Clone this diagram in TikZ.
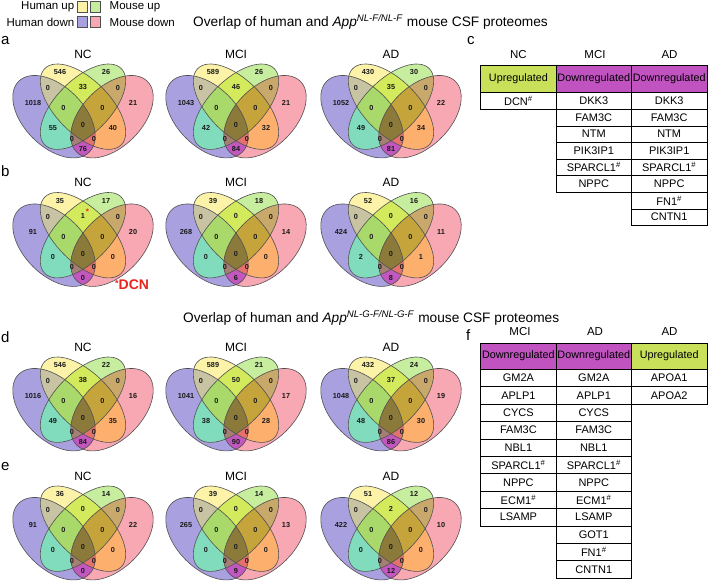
\documentclass[tikz,border=0pt]{standalone}
\usepackage{fontspec}
\setmainfont{Liberation Sans}
\definecolor{cP}{HTML}{A9A0E0}
\definecolor{cY}{HTML}{FCF3A8}
\definecolor{cG}{HTML}{C6EE9E}
\definecolor{cK}{HTML}{F7A8B2}
\definecolor{cPY}{HTML}{C8C3A3}
\definecolor{cPG}{HTML}{80DCBC}
\definecolor{cPK}{HTML}{C257BF}
\definecolor{cYG}{HTML}{D3EA5C}
\definecolor{cYK}{HTML}{FDAF6E}
\definecolor{cGK}{HTML}{C9A86B}
\definecolor{cPYG}{HTML}{A8D96A}
\definecolor{cPYK}{HTML}{E4716E}
\definecolor{cPGK}{HTML}{A47F73}
\definecolor{cYGK}{HTML}{C6A43C}
\definecolor{cPYGK}{HTML}{8C7A3A}
\definecolor{edgegray}{HTML}{505050}
\definecolor{numtext}{HTML}{1A1A1A}
\definecolor{dcnred}{HTML}{E8251E}
\definecolor{upgreen}{HTML}{C8E05A}
\definecolor{downmag}{HTML}{C053C0}
% ellipse shapes, pixel units relative to the Venn origin
\def\ShP#1{[#1,shift={(-29,15)},rotate=-45] (0,0) ellipse [x radius=50,y radius=30]}
\def\ShK#1{[#1,shift={(29,15)},rotate=45] (0,0) ellipse [x radius=50,y radius=30]}
\def\ShY#1{[#1,shift={(0,5)},rotate=-45] (0,0) ellipse [x radius=54,y radius=27]}
\def\ShG#1{[#1,shift={(0,5)},rotate=45] (0,0) ellipse [x radius=54,y radius=27]}
\newcommand\rone[2]{\expandafter\path#1{fill=#2};}
\newcommand\rtwo[3]{\begin{scope}\expandafter\path#1{clip};\expandafter\path#2{fill=#3};\end{scope}}
\newcommand\rthree[4]{\begin{scope}\expandafter\path#1{clip};\expandafter\path#2{clip};\expandafter\path#3{fill=#4};\end{scope}}
\newcommand\rfour[5]{\begin{scope}\expandafter\path#1{clip};\expandafter\path#2{clip};\expandafter\path#3{clip};\expandafter\path#4{fill=#5};\end{scope}}
\newcommand\vennbase[1]{%
  \node[vtitle] at (0,-47.7) {#1};
  \rone\ShP{cP}\rone\ShY{cY}\rone\ShG{cG}\rone\ShK{cK}
  \rtwo\ShP\ShY{cPY}\rtwo\ShP\ShG{cPG}\rtwo\ShP\ShK{cPK}
  \rtwo\ShY\ShG{cYG}\rtwo\ShY\ShK{cYK}\rtwo\ShG\ShK{cGK}
  \rthree\ShP\ShY\ShG{cPYG}\rthree\ShP\ShY\ShK{cPYK}
  \rthree\ShP\ShG\ShK{cPGK}\rthree\ShY\ShG\ShK{cYGK}
  \rfour\ShP\ShY\ShG\ShK{cPYGK}
  \expandafter\path\ShP{vedge};\expandafter\path\ShY{vedge};
  \expandafter\path\ShG{vedge};\expandafter\path\ShK{vedge};}
\newcommand\vlabA[9]{%
  \node[num] at (-23,-29.7) {#1};
  \node[num] at (23,-29.7) {#2};
  \node[num] at (-50,1.3) {#3};
  \node[num] at (50,1.3) {#4};
  \node[num] at (-35,-13.7) {#5};
  \node[num] at (0,-14.7) {#6};
  \node[num] at (35,-13.7) {#7};
  \node[num] at (-19.5,6.3) {#8};
  \node[num] at (19.5,6.3) {#9};}
\newcommand\vlabB[6]{%
  \node[num] at (-30,26.3) {#1};
  \node[num] at (0,23.3) {#2};
  \node[num] at (30,26.3) {#3};
  \node[num] at (-11,37) {#4};
  \node[num] at (11,37) {#5};
  \node[num] at (0,47.5) {#6};}
\newcommand\venn[5]{%
  \begin{scope}[shift={(#1,#2)}]
    \vennbase{#3}
    \vlabA#4
    \vlabB#5
  \end{scope}}
\newcommand\hs{\textsuperscript{\#}}
\begin{document}
\begin{tikzpicture}[x=1pt,y=-1pt,
  vedge/.style={draw=edgegray,line width=0.6pt},
  num/.style={font=\fontsize{7.3}{8}\selectfont\bfseries,text=numtext,inner sep=0},
  vtitle/.style={font=\fontsize{12}{14}\selectfont,inner sep=0},
  plabel/.style={font=\fontsize{15}{17}\selectfont,anchor=base west,inner sep=0},
  ttl/.style={font=\fontsize{13.7}{16}\selectfont,anchor=base west,inner sep=0},
  lgtext/.style={font=\fontsize{11.5}{13}\selectfont,inner sep=0},
  lbox/.style={draw=edgegray,line width=0.6pt,minimum width=10pt,minimum height=11pt,inner sep=0},
  cell/.style={draw=black,line width=0.7pt,minimum width=75.4pt,minimum height=16.6pt,inner sep=0,font=\fontsize{11}{12}\selectfont},
  cellf/.style={cell,minimum height=17.4pt},
  hcell/.style={cell,minimum height=27.7pt,font=\fontsize{10.8}{12}\selectfont},
  hcellf/.style={cell,minimum height=26.3pt,font=\fontsize{10.8}{12}\selectfont},
  colhead/.style={font=\fontsize{11.5}{13}\selectfont,inner sep=0}]
\fill[white] (0,0) rectangle (709,585);
\useasboundingbox (0,0) rectangle (709,585);

% legend
\node[lbox,fill=cY] (ly) at (82.3,7.2) {};
\node[lbox,fill=cG] (lg) at (95.7,7.2) {};
\node[lbox,fill=cP] (lp) at (82.3,22) {};
\node[lbox,fill=cK] (lk) at (95.7,22) {};
\node[lgtext,anchor=east] (lyt) at (74.5,7.2) {Human up};
\node[lgtext,anchor=west] (lgt) at (109.5,7.2) {Mouse up};
\node[lgtext,anchor=east] (lpt) at (74.5,22) {Human down};
\node[lgtext,anchor=west] (lkt) at (109.5,22) {Mouse down};

% titles
\node[ttl] (t1) at (193,26.7) {Overlap of human and \textit{App}\textsuperscript{\textit{NL-F/NL-F}} mouse CSF proteomes};
\node[ttl] (t2) at (183,322.7) {Overlap of human and \textit{App}\textsuperscript{\textit{NL-G-F/NL-G-F}} mouse CSF proteomes};

% panel letters
\node[plabel] (pa) at (1,45) {a};
\node[plabel] (pb) at (1,177) {b};
\node[plabel] (pc) at (467,45) {c};
\node[plabel] (pd) at (1,342) {d};
\node[plabel] (pe) at (1,470) {e};
\node[plabel] (pf) at (466,340) {f};

% panel a
\venn{83}{101.7}{NC}{{546}{26}{1018}{21}{0}{33}{0}{0}{0}}{{55}{0}{40}{0}{0}{76}}
\venn{236}{101.7}{MCI}{{589}{26}{1043}{21}{0}{46}{0}{0}{0}}{{42}{0}{32}{0}{0}{84}}
\venn{391}{101.7}{AD}{{430}{30}{1052}{22}{0}{35}{0}{0}{0}}{{49}{0}{34}{0}{0}{81}}
% panel b
\venn{83}{230.2}{NC}{{35}{17}{91}{20}{0}{1}{0}{0}{0}}{{0}{0}{0}{0}{0}{0}}
\venn{236}{230.2}{MCI}{{39}{18}{268}{14}{0}{0}{0}{0}{0}}{{0}{0}{0}{0}{0}{6}}
\venn{391}{230.2}{AD}{{52}{16}{424}{11}{0}{0}{0}{0}{0}}{{2}{0}{1}{0}{0}{8}}
\node[text=dcnred,font=\fontsize{8}{8}\selectfont\bfseries,inner sep=0] (star) at (87.5,212) {*};
\node[text=dcnred,font=\fontsize{14}{16}\selectfont\bfseries,anchor=base west,inner sep=0] (dcn) at (115,289) {\raisebox{2pt}{\fontsize{9}{9}\selectfont *}DCN};
% panel d
\venn{83}{394.7}{NC}{{546}{22}{1016}{16}{0}{38}{0}{0}{0}}{{49}{0}{35}{0}{0}{84}}
\venn{236}{394.7}{MCI}{{589}{21}{1041}{17}{0}{50}{0}{0}{0}}{{38}{0}{28}{0}{0}{90}}
\venn{391}{394.7}{AD}{{432}{24}{1048}{19}{0}{37}{0}{0}{0}}{{48}{0}{30}{0}{0}{86}}
% panel e
\venn{83}{523.7}{NC}{{36}{14}{91}{22}{0}{0}{0}{0}{0}}{{0}{0}{0}{0}{0}{0}}
\venn{236}{523.7}{MCI}{{39}{14}{265}{13}{0}{0}{0}{0}{0}}{{0}{0}{0}{0}{0}{9}}
\venn{391}{523.7}{AD}{{51}{12}{422}{10}{0}{2}{0}{0}{0}}{{0}{0}{0}{0}{0}{12}}

% table c
\node[colhead] (chNC) at (518.4,55) {NC};
\node[colhead] (chMCI) at (595,55) {MCI};
\node[colhead] (chAD) at (669.5,55) {AD};
\node[hcell,fill=upgreen] (cH1) at (518.4,78.85) {Upregulated};
\node[hcell,fill=downmag] (cH2) at (593.8,78.85) {Downregulated};
\node[hcell,fill=downmag] (cH3) at (669.2,78.85) {Downregulated};
\node[cell] (c1r1) at (518.4,101) {DCN\hs};
\foreach \t [count=\i] in {DKK3,FAM3C,NTM,PIK3IP1,SPARCL1\hs,NPPC}
  \node[cell] (c2r\i) at (593.8,{92.7+16.6*(\i-0.5)}) {\t};
\foreach \t [count=\i] in {DKK3,FAM3C,NTM,PIK3IP1,SPARCL1\hs,NPPC,FN1\hs,CNTN1}
  \node[cell] (c3r\i) at (669.2,{92.7+16.6*(\i-0.5)}) {\t};

% table f
\node[colhead] (fhMCI) at (520,332) {MCI};
\node[colhead] (fhAD) at (595,332) {AD};
\node[colhead] (fhAD2) at (669.5,332) {AD};
\node[hcellf,fill=downmag] (fH1) at (518.4,356.15) {Downregulated};
\node[hcellf,fill=downmag] (fH2) at (593.8,356.15) {Downregulated};
\node[hcellf,fill=upgreen] (fH3) at (669.2,356.15) {Upregulated};
\foreach \t [count=\i] in {GM2A,APLP1,CYCS,FAM3C,NBL1,SPARCL1\hs,NPPC,ECM1\hs,LSAMP}
  \node[cellf] (f1r\i) at (518.4,{369.3+17.4*(\i-0.5)}) {\t};
\foreach \t [count=\i] in {GM2A,APLP1,CYCS,FAM3C,NBL1,SPARCL1\hs,NPPC,ECM1\hs,LSAMP,GOT1,FN1\hs,CNTN1}
  \node[cellf] (f2r\i) at (593.8,{369.3+17.4*(\i-0.5)}) {\t};
\foreach \t [count=\i] in {APOA1,APOA2}
  \node[cellf] (f3r\i) at (669.2,{369.3+17.4*(\i-0.5)}) {\t};
\end{tikzpicture}
\end{document}
